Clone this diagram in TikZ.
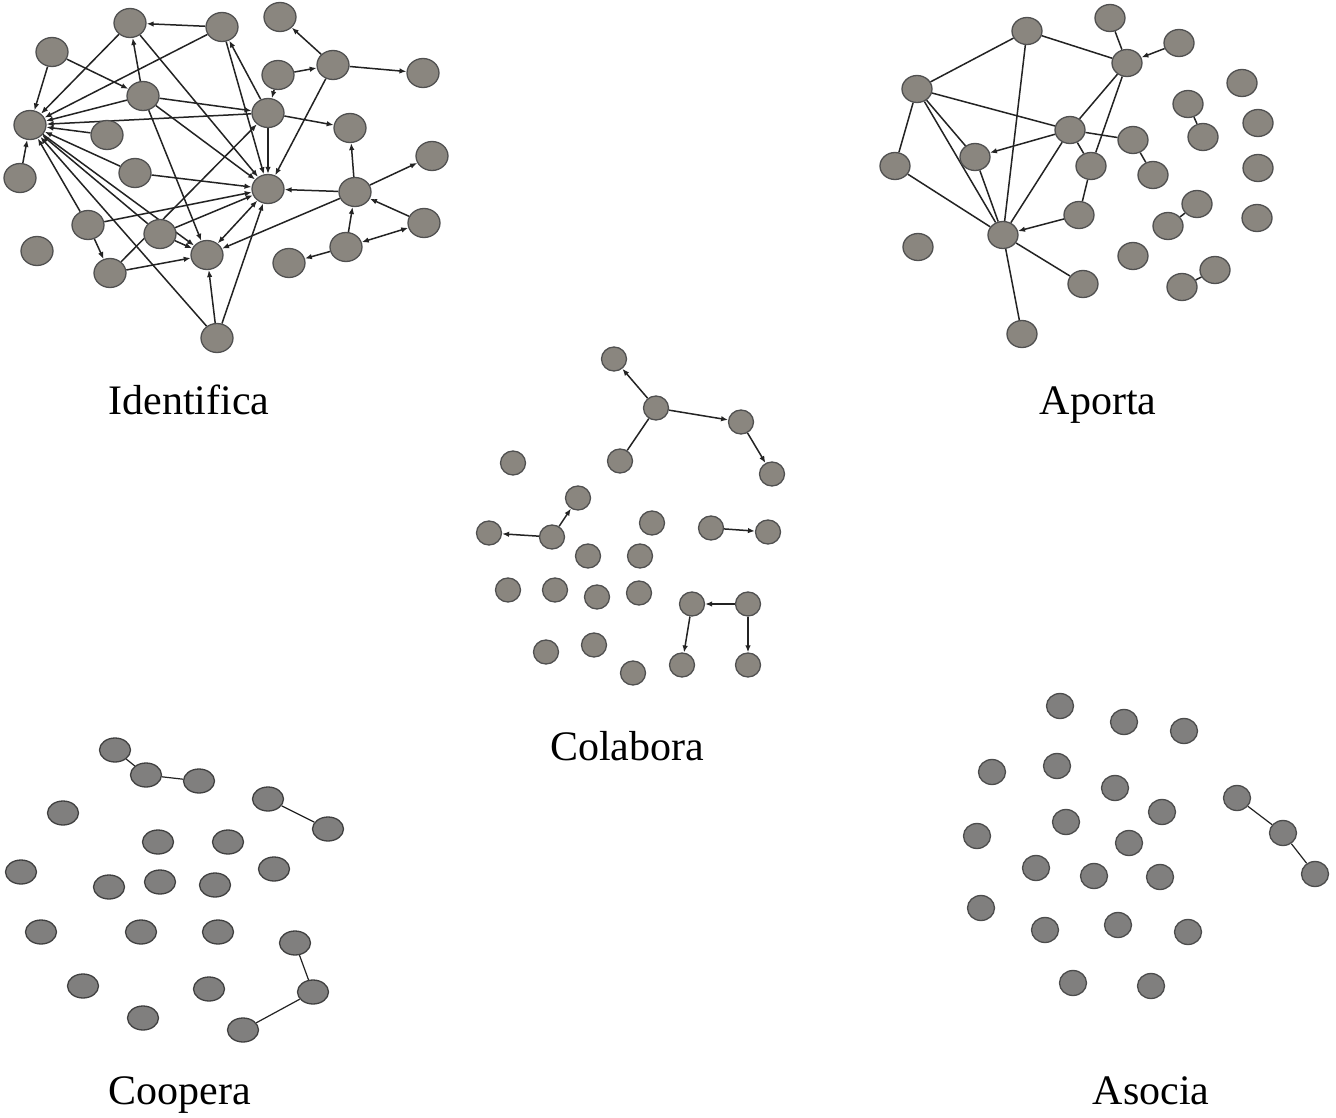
\documentclass[tikz,border=0pt]{standalone}
\usepackage{fontspec}
\setmainfont{Liberation Serif}
\usetikzlibrary{shapes.geometric,arrows.meta,backgrounds}
\definecolor{nodefill}{RGB}{138,134,127}
\definecolor{nodefillb}{RGB}{128,127,126}
\definecolor{nodeline}{RGB}{80,80,80}
\definecolor{edgecol}{RGB}{35,35,35}
\tikzset{
  gnode/.style={ellipse,draw=nodeline,line width=1.3pt,fill=nodefill,inner sep=0pt},
  idn/.style={gnode,minimum width=32pt,minimum height=29pt},
  apn/.style={gnode,minimum width=30pt,minimum height=27pt},
  coln/.style={gnode,minimum width=25pt,minimum height=24pt},
  coon/.style={gnode,fill=nodefillb,draw=black!75,minimum width=31pt,minimum height=24pt},
  asn/.style={gnode,fill=nodefillb,draw=black!70,minimum width=27pt,minimum height=25pt},
  edge/.style={draw=edgecol,line width=1.5pt},
  arr/.style={edge,-{Latex[length=7pt,width=5.5pt]}},
  darr/.style={edge,{Latex[length=7pt,width=5.5pt]}-{Latex[length=7pt,width=5.5pt]}},
  lbl/.style={font=\fontsize{42}{46}\selectfont,inner sep=0pt,anchor=base}
}
\begin{document}
\begin{tikzpicture}[x=1pt,y=-1pt]
\useasboundingbox (0,0) rectangle (1336,1118);
\begin{pgfonlayer}{background}
\fill[white] (0,0) rectangle (1336,1118);
\end{pgfonlayer}

% ---------------- Identifica ----------------
\foreach \n/\x/\y in {I1/130/23,I2/222/27,I3/280/17,I4/52/52,I5/333/65,I6/423/73,I7/278/75,
  I8/143/96,I9/268/113,I10/30/125,I11/107/135,I12/350/128,I13/432/156,I14/135/173,I15/20/178,
  I16/268/189,I17/355/192,I18/88/225,I19/37/251,I20/160/234,I21/424/223,I22/346/247,
  I23/207/255,I24/289/263,I25/110/273,I26/217/338}
  \node[idn] (\n) at (\x,\y) {};
\begin{pgfonlayer}{background}
\foreach \a/\b in {I2/I1,I1/I10,I4/I10,I4/I8,I8/I1,I2/I10,I9/I2,I8/I10,I9/I10,I11/I10,I14/I10,
  I15/I10,I18/I10,I20/I10,I26/I10,I10/I23,I8/I23,I8/I9,I8/I16,I1/I16,I2/I16,I5/I16,I9/I16,
  I7/I9,I7/I5,I5/I3,I5/I6,I9/I12,I17/I12,I17/I13,I17/I16,I17/I23,I21/I17,I22/I17,I22/I24,
  I26/I16,I26/I23,I14/I16,I18/I16,I20/I16,I18/I25,I25/I23,I20/I23,I25/I9}
  \draw[arr] (\a) -- (\b);
\draw[darr] (I22) -- (I21);
\draw[darr] (I23) -- (I16);
\end{pgfonlayer}
\node[lbl] (tI) at (189,414) {Identifica};

% ---------------- Aporta ----------------
\foreach \n/\x/\y in {A1/1027/31,A2/1110/18,A3/1179/43,A4/1127/63,A5/917/89,A6/1070/130,
  A7/1133/140,A8/975/157,A9/895/166,A10/1091/166,A11/1153/175,A12/1003/235,A13/1079/215,
  A14/918/247,A15/1083/284,A16/1022/334,A17/1133/256,A18/1242/83,A19/1188/104,A20/1203/137,
  A21/1258/123,A22/1258/168,A23/1197/204,A24/1168/226,A25/1257/218,A26/1215/270,A27/1182/287}
  \node[apn] (\n) at (\x,\y) {};
\begin{pgfonlayer}{background}
\foreach \a/\b in {A1/A5,A1/A4,A1/A12,A2/A4,A5/A6,A5/A9,A5/A8,A5/A12,A8/A12,A9/A12,
  A6/A4,A6/A12,A6/A7,A6/A10,A4/A10,A10/A13,A7/A11,A12/A15,A12/A16,A19/A20,A23/A24,A26/A27}
  \draw[edge] (\a) -- (\b);
\draw[arr] (A3) -- (A4);
\draw[arr] (A6) -- (A8);
\draw[arr] (A13) -- (A12);
\end{pgfonlayer}
\node[lbl] (tA) at (1098,414) {Aporta};

% ---------------- Colabora ----------------
\foreach \n/\x/\y in {C1/614/359,C2/656/408,C3/741/422,C4/772/474,C5/620/461,C6/513/463,
  C7/578/498,C8/489/533,C9/552/537,C10/652/523,C11/711/528,C12/768/532,C13/588/556,
  C14/640/556,C15/508/590,C16/555/590,C17/597/597,C18/639/593,C19/692/604,C20/748/604,
  C21/546/652,C22/594/645,C23/633/673,C24/682/665,C25/748/665}
  \node[coln] (\n) at (\x,\y) {};
\begin{pgfonlayer}{background}
\foreach \a/\b in {C2/C1,C2/C3,C3/C4,C9/C8,C9/C7,C11/C12,C20/C19,C19/C24,C20/C25}
  \draw[arr] (\a) -- (\b);
\draw[edge] (C2) -- (C5);
\end{pgfonlayer}
\node[lbl] (tC) at (627,760) {Colabora};

% ---------------- Coopera ----------------
\foreach \n/\x/\y in {K1/115/750,K2/146/775,K3/199/781,K4/268/799,K5/328/829,K6/63/813,
  K7/158/842,K8/228/842,K9/21/872,K10/109/887,K11/160/882,K12/215/885,K13/274/869,
  K14/41/932,K15/141/932,K16/218/932,K17/295/943,K18/83/986,K19/209/989,K20/313/992,
  K21/143/1018,K22/243/1030}
  \node[coon] (\n) at (\x,\y) {};
\begin{pgfonlayer}{background}
\foreach \a/\b in {K1/K2,K2/K3,K4/K5,K17/K20,K20/K22}
  \draw[edge,line width=1.2pt] (\a) -- (\b);
\end{pgfonlayer}
\node[lbl] (tK) at (180,1104) {Coopera};

% ---------------- Asocia ----------------
\foreach \n/\x/\y in {S1/1060/706,S2/1124/722,S3/1184/731,S4/992/772,S5/1057/766,S6/1115/788,
  S7/1237/798,S8/977/836,S9/1066/822,S10/1162/812,S11/1283/833,S12/1129/843,S13/1036/868,
  S14/1094/876,S15/1160/877,S16/1315/874,S17/981/908,S18/1045/930,S19/1118/925,S20/1188/932,
  S21/1073/983,S22/1151/986}
  \node[asn] (\n) at (\x,\y) {};
\begin{pgfonlayer}{background}
\draw[edge,line width=1.2pt] (S7) -- (S11);
\draw[edge,line width=1.2pt] (S11) -- (S16);
\end{pgfonlayer}
\node[lbl] (tS) at (1151,1104) {Asocia};
\end{tikzpicture}
\end{document}
